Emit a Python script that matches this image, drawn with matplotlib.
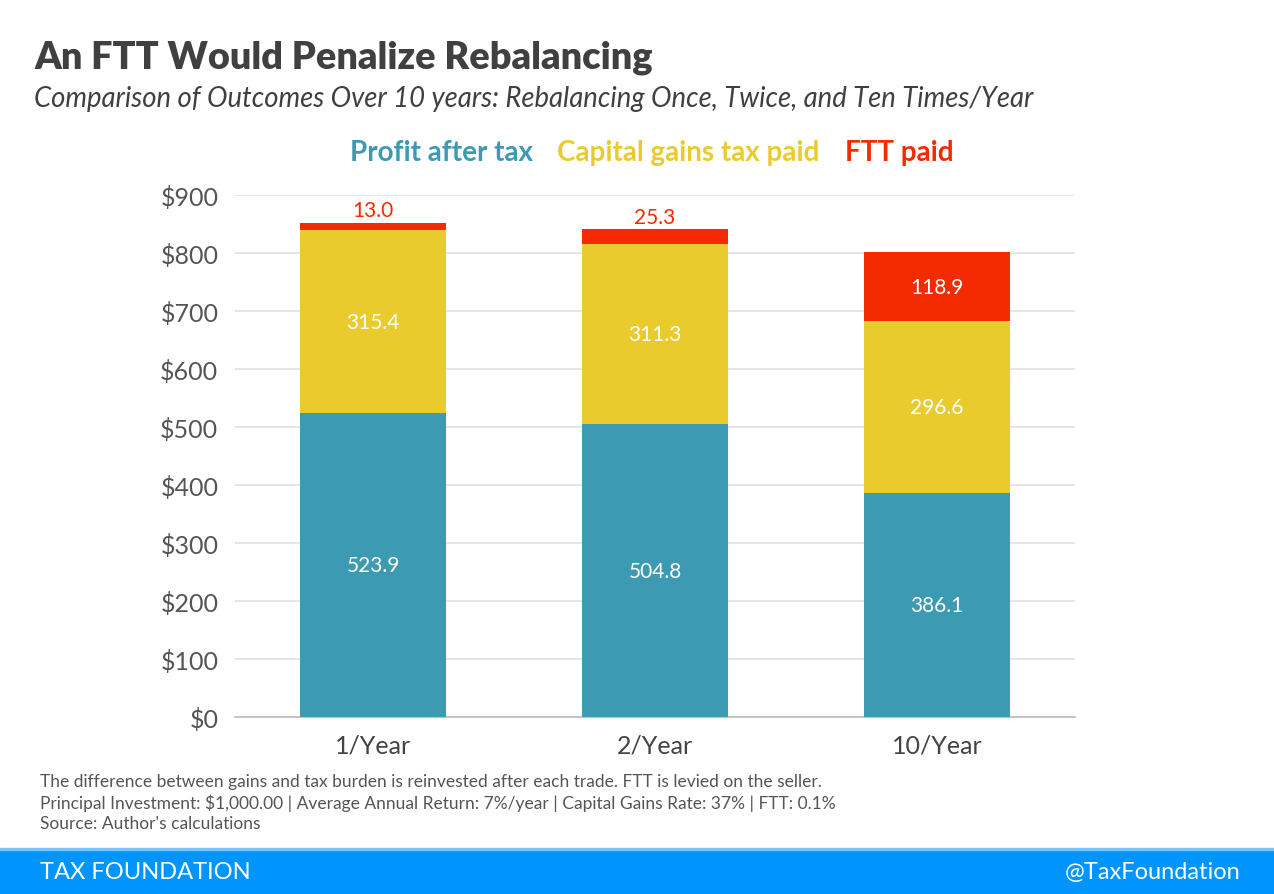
import numpy as np
import matplotlib.pyplot as plt
from matplotlib.patches import Rectangle

plt.rcParams['font.family'] = ['Lato', 'DejaVu Sans']

categories = ['1/Year', '2/Year', '10/Year']
profit = [523.9, 504.8, 386.1]
cg_tax = [315.4, 311.3, 296.6]
ftt = [13.0, 25.3, 118.9]
yticks = [0, 100, 200, 300, 400, 500, 600, 700, 800, 900]

c_profit = '#3D9AB3'
c_cg = '#EACB2E'
c_ftt = '#F42A00'

W, H = 1274, 895
fig = plt.figure(figsize=(W / 100, H / 100), dpi=100)
ax = fig.add_axes([235 / W, 1 - 718 / H, (1075 - 235) / W, (718 - 196) / H])

x = np.arange(len(categories))
bw = 0.52
ax.bar(x, profit, bw, color=c_profit, zorder=3)
ax.bar(x, cg_tax, bw, bottom=profit, color=c_cg, zorder=3)
bot2 = np.array(profit) + np.array(cg_tax)
ax.bar(x, ftt, bw, bottom=bot2, color=c_ftt, zorder=3)

for i in range(len(x)):
    ax.text(x[i], profit[i] / 2, f'{profit[i]:.1f}', ha='center', va='center',
            color='white', fontsize=15)
    ax.text(x[i], profit[i] + cg_tax[i] / 2, f'{cg_tax[i]:.1f}', ha='center',
            va='center', color='white', fontsize=15)
    if ftt[i] > 50:
        ax.text(x[i], bot2[i] + ftt[i] / 2, f'{ftt[i]:.1f}', ha='center',
                va='center', color='white', fontsize=15)
    else:
        ax.text(x[i], bot2[i] + ftt[i] + 4, f'{ftt[i]:.1f}', ha='center',
                va='bottom', color=c_ftt, fontsize=15)

ax.set_xlim(-0.49, 2.49)
ax.set_ylim(0, 900)
ax.set_yticks(yticks)
ax.set_yticklabels([f'${v}' for v in yticks])
ax.set_xticks(x)
ax.set_xticklabels(categories)
ax.tick_params(axis='y', length=0, labelsize=18, colors='#555555', pad=12)
ax.tick_params(axis='x', length=0, labelsize=18, colors='#444444', pad=12)
ax.grid(axis='y', color='#e2e2e2', linewidth=1.2, zorder=0)
for s in ['top', 'right', 'left']:
    ax.spines[s].set_visible(False)
ax.spines['bottom'].set_color('#bbbbbb')
ax.spines['bottom'].set_linewidth(1.2)

# titles
fig.text(34 / W, 1 - 58 / H, 'An FTT Would Penalize Rebalancing', fontsize=27.3,
         fontweight='heavy', color='#404040', va='center', ha='left')
fig.text(34 / W, 1 - 99 / H,
         'Comparison of Outcomes Over 10 years: Rebalancing Once, Twice, and Ten Times/Year',
         fontsize=19.8, fontstyle='italic', color='#404040', va='center', ha='left')

# legend as coloured text
fig.text(350 / W, 1 - 153 / H, 'Profit after tax', fontsize=20, fontweight='bold',
         color=c_profit, va='center', ha='left')
fig.text(557 / W, 1 - 153 / H, 'Capital gains tax paid', fontsize=20, fontweight='bold',
         color=c_cg, va='center', ha='left')
fig.text(845 / W, 1 - 153 / H, 'FTT paid', fontsize=20, fontweight='bold',
         color=c_ftt, va='center', ha='left')

# notes
notes = ['The difference between gains and tax burden is reinvested after each trade. FTT is levied on the seller.',
         'Principal Investment: $1,000.00 | Average Annual Return: 7%/year | Capital Gains Rate: 37% | FTT: 0.1%',
         "Source: Author's calculations"]
for k, t in enumerate(notes):
    fig.text(40 / W, 1 - (782 + k * 21) / H, t, fontsize=12.5, color='#555555',
             va='center', ha='left')

# footer band
fig.patches.append(Rectangle((0, 0), 1, 45 / H, transform=fig.transFigure,
                             color='#0094FF', zorder=0))
fig.patches.append(Rectangle((0, 44 / H), 1, 2 / H, transform=fig.transFigure,
                             color='#7cc4ff', zorder=0))
fig.text(40 / W, 1 - 873 / H, 'TAX FOUNDATION', fontsize=17, color='white',
         va='center', ha='left')
fig.text(1240 / W, 1 - 873 / H, '@TaxFoundation', fontsize=17, color='white',
         va='center', ha='right')

fig.savefig('out.png', dpi=100)
